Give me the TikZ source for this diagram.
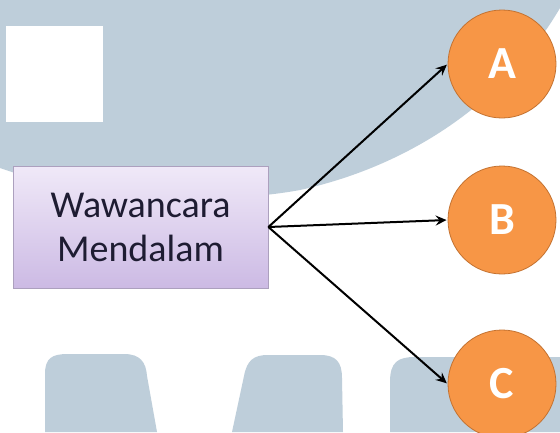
\documentclass[tikz,border=0pt]{standalone}
\usepackage{fontspec}
\setmainfont{Carlito}
\usetikzlibrary{arrows.meta}
\definecolor{wmark}{RGB}{190,206,218}
\definecolor{boxtop}{RGB}{240,233,248}
\definecolor{boxbot}{RGB}{204,186,228}
\definecolor{boxline}{RGB}{172,160,190}
\definecolor{orangefill}{RGB}{247,150,70}
\definecolor{orangeline}{RGB}{196,114,48}
\definecolor{ink}{RGB}{30,28,50}
\tikzset{
  process/.style={draw=boxline, line width=0.8pt, top color=boxtop, bottom color=boxbot,
    minimum width=255pt, minimum height=122pt, inner sep=0pt, align=center,
    font=\fontsize{38}{44}\selectfont, text=ink},
  outcome/.style={circle, fill=orangefill, draw=orangeline, line width=0.8pt,
    minimum size=108pt, inner sep=0pt, text=white, font=\fontsize{46}{50}\selectfont\bfseries},
  link/.style={line width=2pt, -{Stealth[length=11pt,width=10pt,inset=4pt]}, shorten >=1pt}
}
\begin{document}
\begin{tikzpicture}[x=1pt,y=-1pt]
\useasboundingbox (0,0) rectangle (560,432);
\fill[white] (0,0) rectangle (560,432);
% background emblem
\fill[wmark] (0,0) -- (0,168)
  .. controls (90,200) and (220,205) .. (300,190)
  .. controls (400,168) and (500,110) .. (560,8) -- (560,0) -- cycle;
\fill[white] (6,26) rectangle (103,122);
\fill[wmark] (45,432) -- (45,374) .. controls (45,358) and (52,354) .. (68,354)
  -- (124,354) .. controls (140,354) and (146,362) .. (147,376) -- (157,432) -- cycle;
\fill[wmark] (232,432) -- (244,376) .. controls (247,360) and (254,355) .. (268,355)
  -- (320,355) .. controls (336,355) and (342,362) .. (342,378) -- (343,432) -- cycle;
\fill[wmark] (390,432) -- (390,382) .. controls (390,362) and (398,357) .. (415,357)
  -- (560,357) -- (560,432) -- cycle;
% diagram
\node[process] (wm) at (140.5,227) {Wawancara\\Mendalam};
\node[outcome] (a) at (502,64) {A};
\node[outcome] (b) at (502,220) {B};
\node[outcome] (c) at (502,384) {C};
\draw[link] (wm.east) -- (a.west);
\draw[link] (wm.east) -- (b.west);
\draw[link] (wm.east) -- (c.west);
\end{tikzpicture}
\end{document}
